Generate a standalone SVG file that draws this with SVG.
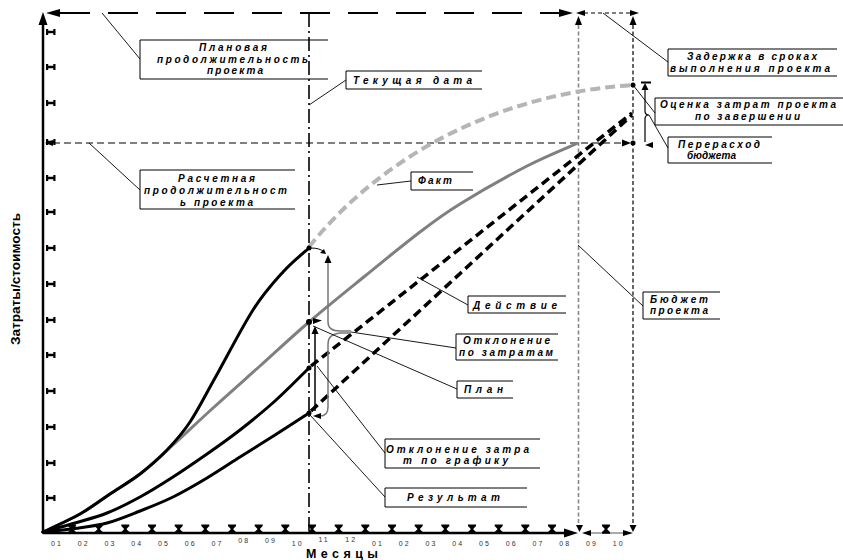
<svg xmlns="http://www.w3.org/2000/svg" xmlns:xlink="http://www.w3.org/1999/xlink" width="843" height="560" viewBox="0 0 843 560">
<style>
.box{fill:none;stroke:#000;stroke-width:1}
.lbl{font-family:"Liberation Sans",Arial,sans-serif;font-weight:bold;font-style:italic;font-size:10px;fill:#000}
.lead{stroke:#000;stroke-width:0.9;fill:none}
.mon{font-family:"Liberation Sans",Arial,sans-serif;font-size:7px;letter-spacing:2px;fill:#333}
.ax{font-family:"Liberation Sans",Arial,sans-serif;font-weight:bold;fill:#000}
.blk{fill:none;stroke:#000;stroke-width:3;stroke-linecap:round}
.bd{fill:none;stroke:#000;stroke-width:3.5;stroke-dasharray:9 5}
</style>
<defs>
<path id="hg" d="M-4,-8.5 h8 v1.6 l-2.6,2.6 v0.8 l2.6,2.6 v1.6 h-8 v-1.6 l2.6,-2.6 v-0.8 l-2.6,-2.6 z" fill="#000"/>
<path id="ib" d="M1,-1.3 h7 v2.6 h-7 z M0,-3 h2.2 v6 h-2.2 z M7.3,-3 h2.2 v6 h-2.2 z" fill="#000"/>
</defs>
<rect width="843" height="560" fill="#fff"/>

<g id="axes">
  <line x1="43" y1="533" x2="43" y2="24" stroke="#000" stroke-width="2.5"/>
  <polygon points="43,12 38.5,25 47.5,25" fill="#000"/>
  <line x1="43" y1="533" x2="566" y2="533" stroke="#000" stroke-width="2.5"/>
  <polygon points="578,533 564,528.5 564,537.5" fill="#000"/>
  <line x1="585" y1="533" x2="628" y2="533" stroke="#555" stroke-width="1"/>
  <polygon points="582,533 591,530 591,536" fill="#000"/>
  <polygon points="633,533 623,530 623,536" fill="#000"/>
  <g>
    <use xlink:href="#ib" x="46" y="32"/><use xlink:href="#ib" x="46" y="67"/><use xlink:href="#ib" x="46" y="103"/>
    <use xlink:href="#ib" x="46" y="142"/><use xlink:href="#ib" x="46" y="178"/><use xlink:href="#ib" x="46" y="212"/>
    <use xlink:href="#ib" x="46" y="248"/><use xlink:href="#ib" x="46" y="284"/><use xlink:href="#ib" x="46" y="320"/>
    <use xlink:href="#ib" x="46" y="355"/><use xlink:href="#ib" x="46" y="391"/><use xlink:href="#ib" x="46" y="427"/>
    <use xlink:href="#ib" x="46" y="463"/><use xlink:href="#ib" x="46" y="498"/>
  </g>
  <g>
    <use xlink:href="#hg" x="72" y="533"/><use xlink:href="#hg" x="98.7" y="533"/><use xlink:href="#hg" x="125.3" y="533"/>
    <use xlink:href="#hg" x="152" y="533"/><use xlink:href="#hg" x="178.7" y="533"/><use xlink:href="#hg" x="205.3" y="533"/>
    <use xlink:href="#hg" x="232" y="533"/><use xlink:href="#hg" x="258.7" y="533"/><use xlink:href="#hg" x="285.3" y="533"/>
    <use xlink:href="#hg" x="312" y="533"/><use xlink:href="#hg" x="338.7" y="533"/><use xlink:href="#hg" x="365.3" y="533"/>
    <use xlink:href="#hg" x="392" y="533"/><use xlink:href="#hg" x="418.7" y="533"/><use xlink:href="#hg" x="445.3" y="533"/>
    <use xlink:href="#hg" x="472" y="533"/><use xlink:href="#hg" x="498.7" y="533"/><use xlink:href="#hg" x="525.3" y="533"/>
    <use xlink:href="#hg" x="552" y="533"/><use xlink:href="#hg" x="606" y="533"/>
  </g>
  <g class="mon">
    <text x="51" y="546">01</text><text x="77.75" y="546">02</text><text x="104.5" y="546">03</text>
    <text x="131.25" y="546">04</text><text x="158" y="546">05</text><text x="184.75" y="546">06</text>
    <text x="211.5" y="546">07</text><text x="238.25" y="543">08</text><text x="265" y="543">09</text>
    <text x="291.75" y="546">10</text><text x="318.5" y="542">11</text><text x="345.25" y="542">12</text>
    <text x="372" y="545.5">01</text><text x="398.75" y="546">02</text><text x="425.5" y="546">03</text>
    <text x="452.25" y="546">04</text><text x="479" y="546">05</text><text x="505.75" y="546">06</text>
    <text x="532.5" y="546">07</text><text x="559.25" y="546">08</text><text x="586" y="546">09</text>
    <text x="612.75" y="546">10</text>
  </g>
  <text class="ax" x="306" y="557.5" font-size="12.5" textLength="72" lengthAdjust="spacing">Месяцы</text>
  <text class="ax" transform="translate(19.5,279) rotate(-90)" text-anchor="middle" font-size="12.5" textLength="132" lengthAdjust="spacingAndGlyphs">Затраты/стоимость</text>
</g>

<g id="guides">
  <line x1="60" y1="13" x2="560" y2="13" stroke="#000" stroke-width="2.2" stroke-dasharray="30 18"/>
  <polygon points="46,13 60,9 60,17" fill="#000"/>
  <polygon points="573,13 559,9 559,17" fill="#000"/>
  <line x1="584" y1="13" x2="630" y2="13" stroke="#000" stroke-width="1" stroke-dasharray="4 3"/>
  <polygon points="576,13 585,10 585,16" fill="#000"/>
  <polygon points="639,13 630,10 630,16" fill="#000"/>
  <line x1="578.5" y1="25" x2="578.5" y2="525" stroke="#888" stroke-width="1.6" stroke-dasharray="4 2.5"/>
  <polygon points="578.5,16 575,25 582,25" fill="#000"/>
  <polygon points="579.5,532 576,525 583,525" fill="#000"/>
  <line x1="633" y1="25" x2="633" y2="525" stroke="#000" stroke-width="1.2" stroke-dasharray="4 2.5"/>
  <polygon points="633,16 629.5,25 636.5,25" fill="#000"/>
  <polygon points="633,532 629.5,525 636.5,525" fill="#000"/>
  <line x1="309" y1="13" x2="309" y2="533" stroke="#000" stroke-width="1.6" stroke-dasharray="14 4 2 4"/>
  <line x1="53" y1="143" x2="624" y2="143" stroke="#000" stroke-width="1" stroke-dasharray="7 4"/>
  <polygon points="45,143 53,140 53,146" fill="#000"/>
  <polygon points="631,143 622,139.5 622,146.5" fill="#000"/>
</g>

<g id="curves">
  <path d="M309,247 C370,170 480,95 633,85" fill="none" stroke="#b5b5b5" stroke-width="4" stroke-dasharray="10 5"/>
  <path d="M43,532 C49.2,529 68.8,520.3 80,514 C91.2,507.7 100,500.7 110,494 C120,487.3 129.5,482.2 140,474 C150.5,465.8 160.8,456 173,445 C185.2,434 198.5,421.2 213,408 C227.5,394.8 244,380.3 260,366 C276,351.7 291.5,337 309,322 C326.5,307 346.5,291 365,276 C383.5,261 404.2,244 420,232 C435.8,220 442.2,215 460,204 C477.8,193 507.3,176.2 527,166 C546.7,155.8 569.5,146.8 578,143" fill="none" stroke="#808080" stroke-width="3"/>
  <path class="blk" d="M43,532 C49.2,529 68.8,520.3 80,514 C91.2,507.7 100,500.7 110,494 C120,487.3 130.5,481.3 140,474 C149.5,466.7 158.7,458.7 167,450 C175.3,441.3 182,434 190,422 C198,410 204.5,396.7 215,378 C225.5,359.3 241.7,327.7 253,310 C264.3,292.3 273.7,282.3 283,272 C292.3,261.7 304.7,252 309,248"/>
  <path class="blk" d="M43,532 C48.3,530.5 64.3,526.2 75,523 C85.7,519.8 96.2,517.3 107,513 C117.8,508.7 129,503 140,497 C151,491 161.8,484.2 173,477 C184.2,469.8 195.8,461.8 207,454 C218.2,446.2 228.7,438.8 240,430 C251.3,421.2 263.5,411.3 275,401 C286.5,390.7 303.3,373.5 309,368"/>
  <path class="blk" d="M43,532 C48.3,531.4 64.3,530 75,528.5 C85.7,527 96.2,525.9 107,523 C117.8,520.1 129,515.3 140,511 C151,506.7 161.8,502.5 173,497 C184.2,491.5 195.8,484.7 207,478 C218.2,471.3 228.7,464.2 240,457 C251.3,449.8 263.5,442.3 275,435 C286.5,427.7 303.3,416.7 309,413"/>
  <line class="bd" x1="311" y1="366" x2="632" y2="113"/>
  <line class="bd" x1="311" y1="411" x2="632" y2="115"/>
  <circle cx="309" cy="248" r="2.5" fill="#000"/>
  <circle cx="309" cy="322" r="3" fill="#000"/>
  <circle cx="309" cy="368" r="2.5" fill="#000"/>
  <circle cx="309" cy="413" r="2.5" fill="#000"/>
  <circle cx="633" cy="85" r="2.5" fill="#000"/>
  <circle cx="633" cy="143" r="2.5" fill="#000"/>
</g>

<g id="braces">
  <path d="M311,248 Q320,248 324,252" fill="none" stroke="#000" stroke-width="1"/>
  <polygon points="326,254 320,253 324,249" fill="#000"/>
  <path d="M328,262 V322 Q328,331 340,331 H351 M351,333 H340 Q328,334 328,344 V407 Q328,416 320,416" fill="none" stroke="#777" stroke-width="1.5"/>
  <polygon points="328,255 324.5,263 331.5,263" fill="#000"/>
  <polygon points="313,416 321,413 321,419" fill="#000"/>
  <line x1="315" y1="333" x2="315" y2="411" stroke="#000" stroke-width="1.5"/>
  <polygon points="315,326 311.5,334 318.5,334" fill="#000"/>
  <polygon points="313,318 322,320.5 313,324" fill="#000"/>
  <path d="M645,89 V111 Q645,115 649,115 Q645,115 645,119 V142" fill="none" stroke="#000" stroke-width="1.2"/>
  <line x1="641" y1="82.5" x2="651" y2="82.5" stroke="#000" stroke-width="2"/>
  <polygon points="645,83 641.5,90 648.5,90" fill="#000"/>
  <polygon points="645,145 653,142 653,148" fill="#000"/>
</g>

<g id="connectors">
  <line class="lead" x1="102" y1="13" x2="140" y2="59"/>
  <line class="lead" x1="89" y1="143" x2="140" y2="190"/>
  <line class="lead" x1="309" y1="105" x2="346" y2="80"/>
  <line class="lead" x1="603" y1="13" x2="668" y2="62"/>
  <line class="lead" x1="633" y1="85" x2="655" y2="113"/>
  <line class="lead" x1="649" y1="115" x2="668" y2="148"/>
  <line class="lead" x1="377" y1="185" x2="411" y2="181"/>
  <line class="lead" x1="417" y1="277" x2="468" y2="305"/>
  <line class="lead" x1="351" y1="332" x2="456" y2="348"/>
  <line class="lead" x1="313" y1="326" x2="457" y2="389"/>
  <line class="lead" x1="317" y1="366" x2="385" y2="453"/>
  <line class="lead" x1="310" y1="415" x2="385" y2="497"/>
  <line class="lead" x1="578" y1="245" x2="643" y2="306"/>
</g>

<g id="node-planned-duration">
  <path class="box" d="M328,40 H140 V79 H328"/>
  <text class="lbl" font-size="9.5" x="199" y="51" textLength="68" lengthAdjust="spacing">Плановая</text>
  <text class="lbl" font-size="9.5" x="157" y="63" textLength="151" lengthAdjust="spacing">продолжительность</text>
  <text class="lbl" font-size="9.5" x="207" y="74" textLength="56" lengthAdjust="spacing">проекта</text>
</g>
<g id="node-estimated-duration">
  <path class="box" d="M295,170 H140 V209 H295"/>
  <text class="lbl" font-size="9.5" x="178" y="182" textLength="77" lengthAdjust="spacing">Расчетная</text>
  <text class="lbl" font-size="9.5" x="144" y="194" textLength="143" lengthAdjust="spacing">продолжительност</text>
  <text class="lbl" font-size="9.5" x="180" y="205.5" textLength="73" lengthAdjust="spacing">ь проекта</text>
</g>
<g id="node-current-date">
  <path class="box" d="M482,71 H346 V89 H482"/>
  <text class="lbl" x="353" y="84" textLength="119" lengthAdjust="spacing">Текущая дата</text>
</g>
<g id="node-delay">
  <path class="box" d="M837,49 H668 V76 H837"/>
  <text class="lbl" x="687" y="60" textLength="130" lengthAdjust="spacing">Задержка в сроках</text>
  <text class="lbl" x="670" y="72" textLength="160" lengthAdjust="spacing">выполнения проекта</text>
</g>
<g id="node-eac">
  <path class="box" d="M843,98 H655 V125 H843"/>
  <text class="lbl" x="660" y="108" textLength="176" lengthAdjust="spacing">Оценка затрат проекта</text>
  <text class="lbl" x="695" y="120" textLength="105" lengthAdjust="spacing">по завершении</text>
</g>
<g id="node-overrun">
  <path class="box" d="M772,137 H668 V163 H772"/>
  <text class="lbl" x="678" y="148" textLength="82" lengthAdjust="spacing">Перерасход</text>
  <text class="lbl" font-size="8.5" x="687" y="159" textLength="49" lengthAdjust="spacing">бюджета</text>
</g>
<g id="node-fact">
  <path class="box" d="M473,172 H411 V190 H473"/>
  <text class="lbl" x="418" y="184" textLength="34" lengthAdjust="spacing">Факт</text>
</g>
<g id="node-action">
  <path class="box" d="M566,296 H468 V313 H566"/>
  <text class="lbl" font-size="10.5" x="473" y="309" textLength="84" lengthAdjust="spacing">Действие</text>
</g>
<g id="node-cost-variance">
  <path class="box" d="M558,334 H456 V360 H558"/>
  <text class="lbl" x="463" y="344" textLength="87" lengthAdjust="spacing">Отклонение</text>
  <text class="lbl" x="459" y="356" textLength="94" lengthAdjust="spacing">по затратам</text>
</g>
<g id="node-plan">
  <path class="box" d="M513,381 H457 V398 H513"/>
  <text class="lbl" font-size="10.5" x="464" y="393" textLength="39" lengthAdjust="spacing">План</text>
</g>
<g id="node-schedule-variance">
  <path class="box" d="M540,439 H385 V468 H540"/>
  <text class="lbl" font-size="10.5" x="386" y="453" textLength="143" lengthAdjust="spacing">Отклонение затра</text>
  <text class="lbl" x="403" y="464" textLength="105" lengthAdjust="spacing">т по графику</text>
</g>
<g id="node-result">
  <path class="box" d="M527,488 H385 V507 H527"/>
  <text class="lbl" font-size="10.5" x="407" y="501" textLength="93" lengthAdjust="spacing">Результат</text>
</g>
<g id="node-budget">
  <path class="box" d="M720,292 H643 V319 H720"/>
  <text class="lbl" font-size="9" x="650" y="303" textLength="58" lengthAdjust="spacing">Бюджет</text>
  <text class="lbl" font-size="9" x="650" y="314" textLength="58" lengthAdjust="spacing">проекта</text>
</g>
</svg>
